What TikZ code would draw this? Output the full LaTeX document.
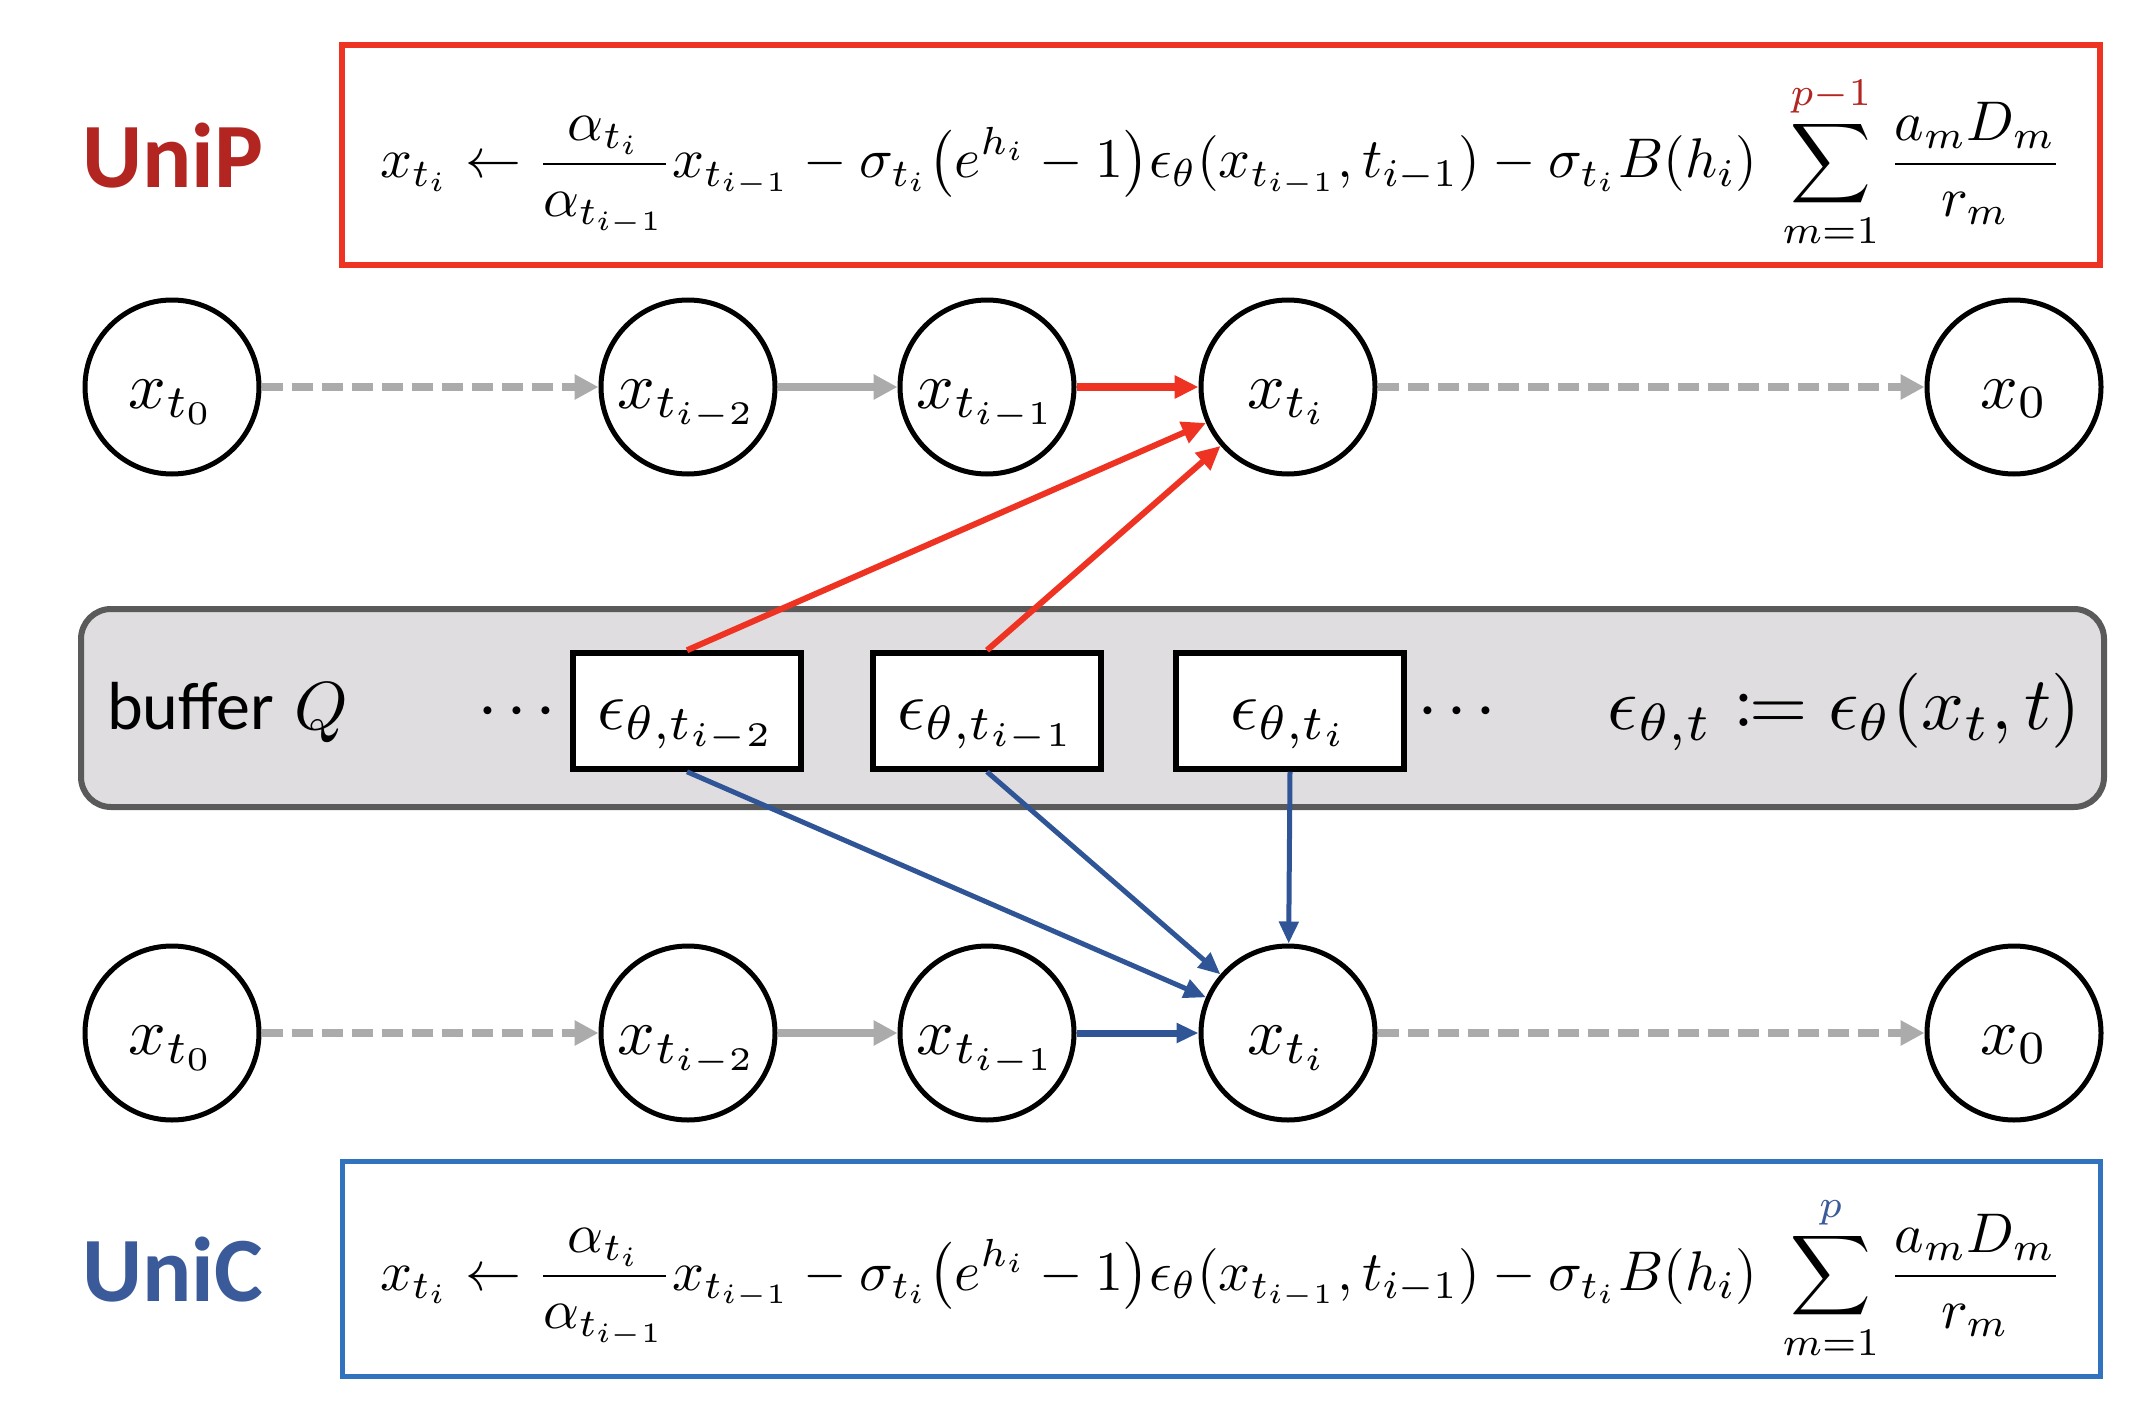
\documentclass[tikz,border=0pt]{standalone}
\usepackage{amsmath}
\usepackage{mathtools}
\usepackage{graphicx}
\usepackage{xcolor}
\usepackage{fontspec}
\newfontfamily\calibri{Carlito}
\usetikzlibrary{arrows.meta}
\definecolor{unipred}{HTML}{B22520}
\definecolor{boxred}{HTML}{EE3323}
\definecolor{unicblue}{HTML}{3A5A99}
\definecolor{boxblue}{HTML}{3173BE}
\definecolor{arrblue}{HTML}{2F5597}
\definecolor{arrgrey}{HTML}{ABABAB}
\definecolor{buffill}{HTML}{DFDDDF}
\definecolor{bufdraw}{HTML}{5A5A5A}
\newcommand{\mlab}[1]{\scalebox{6.6}{$#1$}}
\newcommand{\elab}[1]{\scalebox{6.9}{$#1$}}
\newcommand{\upd}[1]{x_{t_i} \leftarrow \frac{\alpha_{t_i}}{\alpha_{t_{i-1}}}x_{t_{i-1}} - \sigma_{t_i}\bigl(e^{h_i}-1\bigr)\epsilon_\theta(x_{t_{i-1}},t_{i-1}) - \sigma_{t_i}B(h_i)\;\sum_{m=1}^{#1}\frac{a_mD_m}{r_m}}
\tikzset{
  state/.style={draw=black, line width=5pt, circle, minimum size=174pt, inner sep=0pt, fill=white, text height=52pt, text depth=10pt},
  epsbox/.style={draw=black, line width=5.5pt, fill=white, minimum width=228pt, minimum height=116pt, inner sep=0pt, text height=46pt, text depth=10pt},
  greyarr/.style={draw=arrgrey, line width=8pt, -{Triangle[length=24pt,width=24pt]}},
  greydash/.style={greyarr, dash pattern=on 21pt off 9pt},
  redarr/.style={draw=boxred, line width=6pt, -{Triangle[length=24pt,width=22pt]}},
  bluearr/.style={draw=arrblue, line width=5pt, -{Triangle[length=22pt,width=19pt]}},
  eqbox/.style={line width=6pt, minimum width=1758pt, minimum height=220pt, inner sep=0pt},
}
\begin{document}
\begin{tikzpicture}[x=1pt,y=-1pt]
\useasboundingbox (0,0) rectangle (2150,1426);
% top formula
\node[eqbox, draw=boxred] (pbox) at (1221,155) {};
\node[anchor=base west, inner sep=0pt] (peq) at (380,178) {\resizebox{1682pt}{!}{$\displaystyle \upd{\textcolor{unipred}{p-1}}$}};
\node[anchor=base west, inner sep=0pt, text=unipred] (unip) at (82,187) {\calibri\bfseries\fontsize{92}{100}\selectfont UniP};
% bottom formula
\node[eqbox, draw=boxblue, line width=5pt, minimum height=215pt] (cbox) at (1221,1269) {};
\node[anchor=base west, inner sep=0pt] (ceq) at (380,1290) {\resizebox{1682pt}{!}{$\displaystyle \upd{\textcolor{unicblue}{p}}$}};
\node[anchor=base west, inner sep=0pt, text=unicblue] (unic) at (82,1301) {\calibri\bfseries\fontsize{92}{100}\selectfont UniC};
% buffer
\node[draw=bufdraw, fill=buffill, line width=6pt, rounded corners=30pt, minimum width=2023pt, minimum height=198pt, inner sep=0pt] (buf) at (1092.5,708) {};
\node[anchor=base west, inner sep=0pt] (buftext) at (107,729) {{\calibri\fontsize{68}{80}\selectfont buffer}\hspace{20pt}\scalebox{6.8}{$Q$}};
\node[anchor=base, inner sep=0pt] (dots1) at (517,729) {\scalebox{7.5}{$\cdotp\mkern-1mu\cdotp\mkern-1mu\cdotp$}};
\node[anchor=base, inner sep=0pt] (dots2) at (1457,729) {\scalebox{7.5}{$\cdotp\mkern-1mu\cdotp\mkern-1mu\cdotp$}};
\node[anchor=base east, inner sep=0pt] (bufeq) at (2081,729) {\scalebox{7.5}{$\epsilon_{\theta,t} \coloneqq \epsilon_\theta(x_t,t)$}};
\node[epsbox] (e1) at (687,711) {\elab{\epsilon_{\theta,t_{i-2}}}};
\node[epsbox] (e2) at (987,711) {\elab{\epsilon_{\theta,t_{i-1}}}};
\node[epsbox] (e3) at (1290,711) {\elab{\epsilon_{\theta,t_{i}}}};
% row 1
\node[state] (a0) at (172,387) {\mlab{x_{t_0}}};
\node[state] (a1) at (688,387) {\mlab{x_{t_{i-2}}}};
\node[state] (a2) at (987,387) {\mlab{x_{t_{i-1}}}};
\node[state] (a3) at (1288,387) {\mlab{x_{t_i}}};
\node[state] (a4) at (2014,387) {\mlab{x_0}};
% row 2
\node[state] (b0) at (172,1033) {\mlab{x_{t_0}}};
\node[state] (b1) at (688,1033) {\mlab{x_{t_{i-2}}}};
\node[state] (b2) at (987,1033) {\mlab{x_{t_{i-1}}}};
\node[state] (b3) at (1288,1033) {\mlab{x_{t_i}}};
\node[state] (b4) at (2014,1033) {\mlab{x_0}};
% row 1 arrows
\draw[greydash] (a0) -- (a1);
\draw[greyarr] (a1) -- (a2);
\draw[redarr, line width=8pt] (a2) -- (a3);
\draw[greydash] (a3) -- (a4);
\draw[redarr] (e1.north) -- (a3);
\draw[redarr] (e2.north) -- (a3);
% row 2 arrows
\draw[greydash] (b0) -- (b1);
\draw[greyarr] (b1) -- (b2);
\draw[bluearr, line width=7pt] (b2) -- (b3);
\draw[greydash] (b3) -- (b4);
\draw[bluearr] (e1.south) -- (b3);
\draw[bluearr] (e2.south) -- (b3);
\draw[bluearr] (e3.south) -- (b3);
\end{tikzpicture}
\end{document}
